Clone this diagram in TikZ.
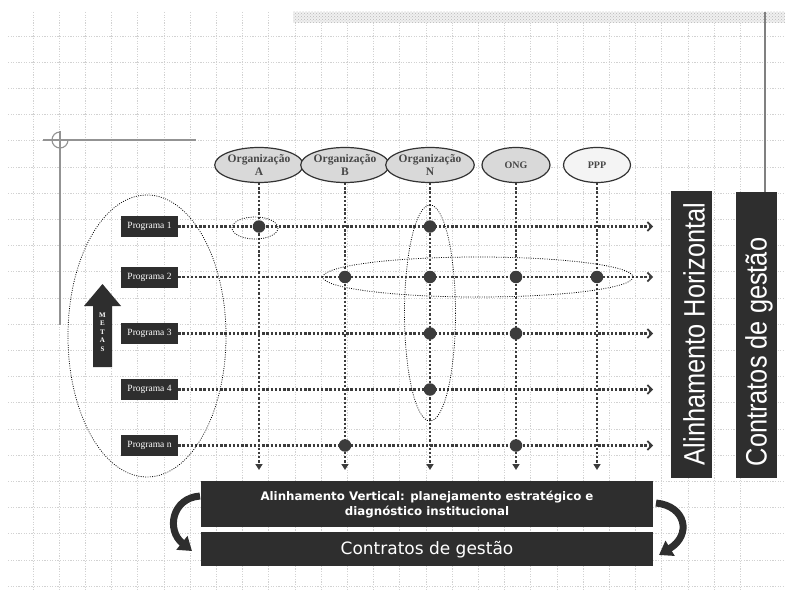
\documentclass[tikz,border=0pt]{standalone}
\usepackage{fontspec}
\setmainfont{Liberation Serif}
\newfontfamily\dvs{DejaVu Sans}
\newfontfamily\lsans{Liberation Sans}
\usetikzlibrary{shapes.geometric,arrows.meta,patterns}
\definecolor{boxdark}{HTML}{2E2E2E}
\definecolor{orgfill}{HTML}{D9D9D9}
\definecolor{pppfill}{HTML}{F4F4F4}
\definecolor{connc}{HTML}{3C3C3C}
\definecolor{gridc}{HTML}{D2D2D2}
\begin{document}
\begin{tikzpicture}[x=1pt,y=-1pt,
  gridline/.style={gridc, line width=0.9pt, dash pattern=on 1.2pt off 1.4pt},
  org/.style={ellipse, draw=black!80, line width=1.2pt, fill=orgfill, minimum width=76pt, minimum height=35pt, inner sep=0pt, text=black!72, align=center, font=\fontsize{11.5}{13.5}\selectfont\bfseries},
  prog/.style={fill=boxdark, text=white, minimum width=57pt, minimum height=21pt, inner sep=0pt, font=\fontsize{9.5}{11}\selectfont},
  darkbox/.style={fill=boxdark, inner sep=0pt},
  conn/.style={connc, line width=2.5pt, dash pattern=on 2.3pt off 1.9pt},
  vtip/.style={-{Triangle[length=6pt,width=7pt]}},
  htip/.style={-{Straight Barb[length=4.5pt,width=9pt,line width=1.6pt]}},
  dotn/.style={circle, fill=connc, minimum size=12.5pt, inner sep=0pt},
  ring/.style={black, line width=0.75pt, dash pattern=on 0.9pt off 1.4pt},
  carrow/.style={boxdark, line width=7pt, -{Triangle[length=13pt,width=17pt]}}
]
\useasboundingbox (0,0) rectangle (785,591);
\fill[white] (0,0) rectangle (785,591);
% background grid
\foreach \i in {0,...,21} \draw[gridline] (8,36+26.2*\i) -- (785,36+26.2*\i);
\foreach \i in {0,...,27} \draw[gridline] (33+26.2*\i,12) -- (33+26.2*\i,591);
% top hatched band
\fill[gray!12] (293,12) rectangle (785,23);
\fill[pattern=crosshatch dots, pattern color=gray!55] (293,12) rectangle (785,23);
% crosshair
\draw[gray!85, line width=1.3pt] (43,140) -- (196,140);
\draw[gray!85, line width=1.3pt] (60,131) -- (60,325);
\draw[gray!85, line width=1.1pt] (60,132) arc[start angle=-90, end angle=-360, radius=8];
% right vertical gray line
\draw[gray, line width=1.4pt] (765,12) -- (765,192);

% organisations
\node[org] (oA) at (259,165) {Organização\\A};
\node[org] (oB) at (345,165) {Organização\\B};
\node[org] (oN) at (430,165) {Organização\\N};
\node[org, minimum width=68pt, font=\fontsize{10}{11}\selectfont\bfseries] (oO) at (516,165) {ONG};
\node[org, minimum width=67pt, fill=pppfill, font=\fontsize{10}{11}\selectfont\bfseries] (oP) at (597,165) {PPP};

% programs
\node[prog] (p1) at (149.5,226.5) {Programa 1};
\node[prog] (p2) at (149.5,277) {Programa 2};
\node[prog] (p3) at (149.5,333.5) {Programa 3};
\node[prog] (p4) at (149.5,389.5) {Programa 4};
\node[prog] (pn) at (149.5,445.5) {Programa n};

% end coordinates
\coordinate (vend) at (0,470);
\coordinate (hend) at (653,0);

% vertical connectors
\foreach \o in {oA,oB,oN,oO,oP}
  \draw[conn, vtip] (\o.south) -- (\o.south |- vend);
% horizontal connectors
\foreach \p in {p1,p2,p3,p4,pn}
  \draw[conn, htip] (\p.east) -- (\p.east -| hend);

% dots
\node[dotn] (d1A) at (259,226.5) {};
\node[dotn] (d1N) at (430,226.5) {};
\node[dotn] (d2B) at (345,277) {};
\node[dotn] (d2N) at (430,277) {};
\node[dotn] (d2O) at (516,277) {};
\node[dotn] (d2P) at (597,277) {};
\node[dotn] (d3N) at (430,333.5) {};
\node[dotn] (d3O) at (516,333.5) {};
\node[dotn] (d4N) at (430,389.5) {};
\node[dotn] (dnB) at (345,445.5) {};
\node[dotn] (dnO) at (516,445.5) {};

% dotted rings
\draw[ring] (147,336) ellipse [x radius=79, y radius=141];
\draw[ring] (255,228) ellipse [x radius=23, y radius=11];
\draw[ring] (430,313) ellipse [x radius=25.5, y radius=108];
\draw[ring] (478,277) ellipse [x radius=155, y radius=20];

% METAS arrow
\fill[boxdark] (93,367) -- (93,306) -- (84,306) -- (102.5,284) -- (121,306) -- (112,306) -- (112,367) -- cycle;
\node[text=white, font=\fontsize{7}{10}\selectfont\bfseries, align=center, inner sep=0pt] (metas) at (102.5,332) {M\\[-1.4pt]E\\[-1.4pt]T\\[-1.4pt]A\\[-1.4pt]S};

% right boxes
\node[darkbox, minimum width=41pt, minimum height=286pt] (ah) at (691.5,334.5) {};
\node[rotate=90, text=white, inner sep=0pt] (aht) at (694,334) {\scalebox{0.86}[1]{\lsans\fontsize{29.5}{29.5}\selectfont Alinhamento Horizontal}};
\node[darkbox, minimum width=41pt, minimum height=286pt] (cg) at (756.5,335) {};
\node[rotate=90, text=white, inner sep=0pt] (cgt) at (759,352) {\scalebox{0.86}[1]{\lsans\fontsize{29.5}{29.5}\selectfont Contratos de gestão}};

% bottom boxes
\node[darkbox, minimum width=452pt, minimum height=46pt] (av) at (427,504) {};
\node[text=white, align=center, inner sep=0pt, font=\dvs\bfseries\fontsize{11.8}{15}\selectfont] (avt) at (427,505) {Alinhamento Vertical: planejamento estratégico e\\diagnóstico institucional};
\node[darkbox, minimum width=452pt, minimum height=34pt] (cb) at (427,549) {};
\node[text=white, inner sep=0pt, font=\dvs\fontsize{17}{20}\selectfont] (cbt) at (427,550) {Contratos de gestão};

% curved arrows
\coordinate (la1) at (200,496);
\coordinate (la2) at (192,551);
\draw[carrow] (la1) .. controls (172,498) and (166,530) .. (la2);
\coordinate (ra1) at (656,503);
\coordinate (ra2) at (659,555);
\draw[carrow] (ra1) .. controls (686,506) and (692,535) .. (ra2);
\end{tikzpicture}
\end{document}
